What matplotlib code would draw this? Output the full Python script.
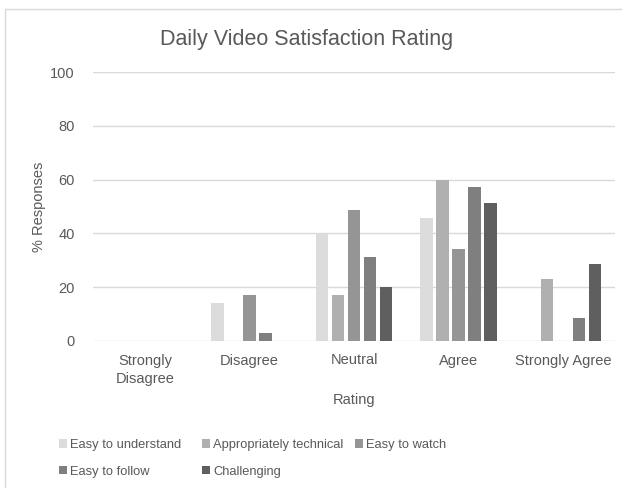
import numpy as np
import matplotlib
matplotlib.use("Agg")
from matplotlib import pyplot as plt
from matplotlib.patches import Rectangle, Patch

plt.rcParams['font.family'] = ['Liberation Sans', 'DejaVu Sans']

ratings = ['Strongly\nDisagree', 'Disagree', 'Neutral', 'Agree', 'Strongly Agree']
series_names = ['Easy to understand', 'Appropriately technical', 'Easy to watch',
                'Easy to follow', 'Challenging']
easy_understand = [0, 14.3, 40.0, 45.7, 0]
appr_technical = [0, 0, 17.1, 60.0, 22.9]
easy_watch = [0, 17.1, 48.6, 34.3, 0]
easy_follow = [0, 2.9, 31.4, 57.1, 8.6]
challenging = [0, 0, 20.0, 51.4, 28.6]
series_vals = [easy_understand, appr_technical, easy_watch, easy_follow, challenging]
colors = ['#dcdcdc', '#b0b0b0', '#959595', '#7f7f7f', '#5f5f5f']

txt = '#595959'
W, H = 622, 488
fig = plt.figure(figsize=(W / 100, H / 100), dpi=100)

# chart border
fig.patches.append(Rectangle((5 / W, -0.1), 1.2, 1 - 9 / H + 0.1, transform=fig.transFigure,
                             fill=False, edgecolor='#d9d9d9', lw=1))

ax = fig.add_axes([93 / W, 1 - 341 / H, (615 - 93) / W, (341 - 72) / H])
x = np.arange(len(ratings))
pitch = 0.153
bw = 0.118
for i, (vals, c) in enumerate(zip(series_vals, colors)):
    ax.bar(x + (i - 2) * pitch, vals, bw, color=c, label=series_names[i], zorder=3)

ax.set_xlim(-0.5, 4.5)
ax.set_ylim(0, 100)
ax.set_yticks(range(0, 101, 20))
ax.set_xticks(x)
ax.set_xticklabels(ratings, linespacing=1.45)
ax.yaxis.grid(True, color='#d9d9d9', lw=1, zorder=0)
for s in ax.spines.values():
    s.set_visible(False)
ax.tick_params(length=0, colors=txt, labelsize=10.5)
ax.tick_params(axis='y', pad=13)
ax.tick_params(axis='x', pad=9)
ax.set_ylabel('% Responses', color=txt, fontsize=10.5, labelpad=3)
ax.set_xlabel('Rating', color=txt, fontsize=10.5, labelpad=5)

fig.text(307 / W, 1 - 40 / H, 'Daily Video Satisfaction Rating', ha='center', va='center',
         color=txt, fontsize=15.5)

# legend: three columns placed like the original
handles = [Patch(facecolor=c, edgecolor='none') for c in colors]
cols = [([0, 3], 59), ([1, 4], 202), ([2], 355)]
for idx, xp in cols:
    lg = fig.legend([handles[k] for k in idx], [series_names[k] for k in idx],
                    loc='upper left', bbox_to_anchor=(xp / W, 1 - 439 / H),
                    frameon=False, fontsize=9.3, handlelength=0.6, handleheight=0.6,
                    handletextpad=0.25, labelspacing=1.15, borderpad=0, borderaxespad=0,
                    labelcolor=txt)

fig.savefig('out.png', dpi=100)
